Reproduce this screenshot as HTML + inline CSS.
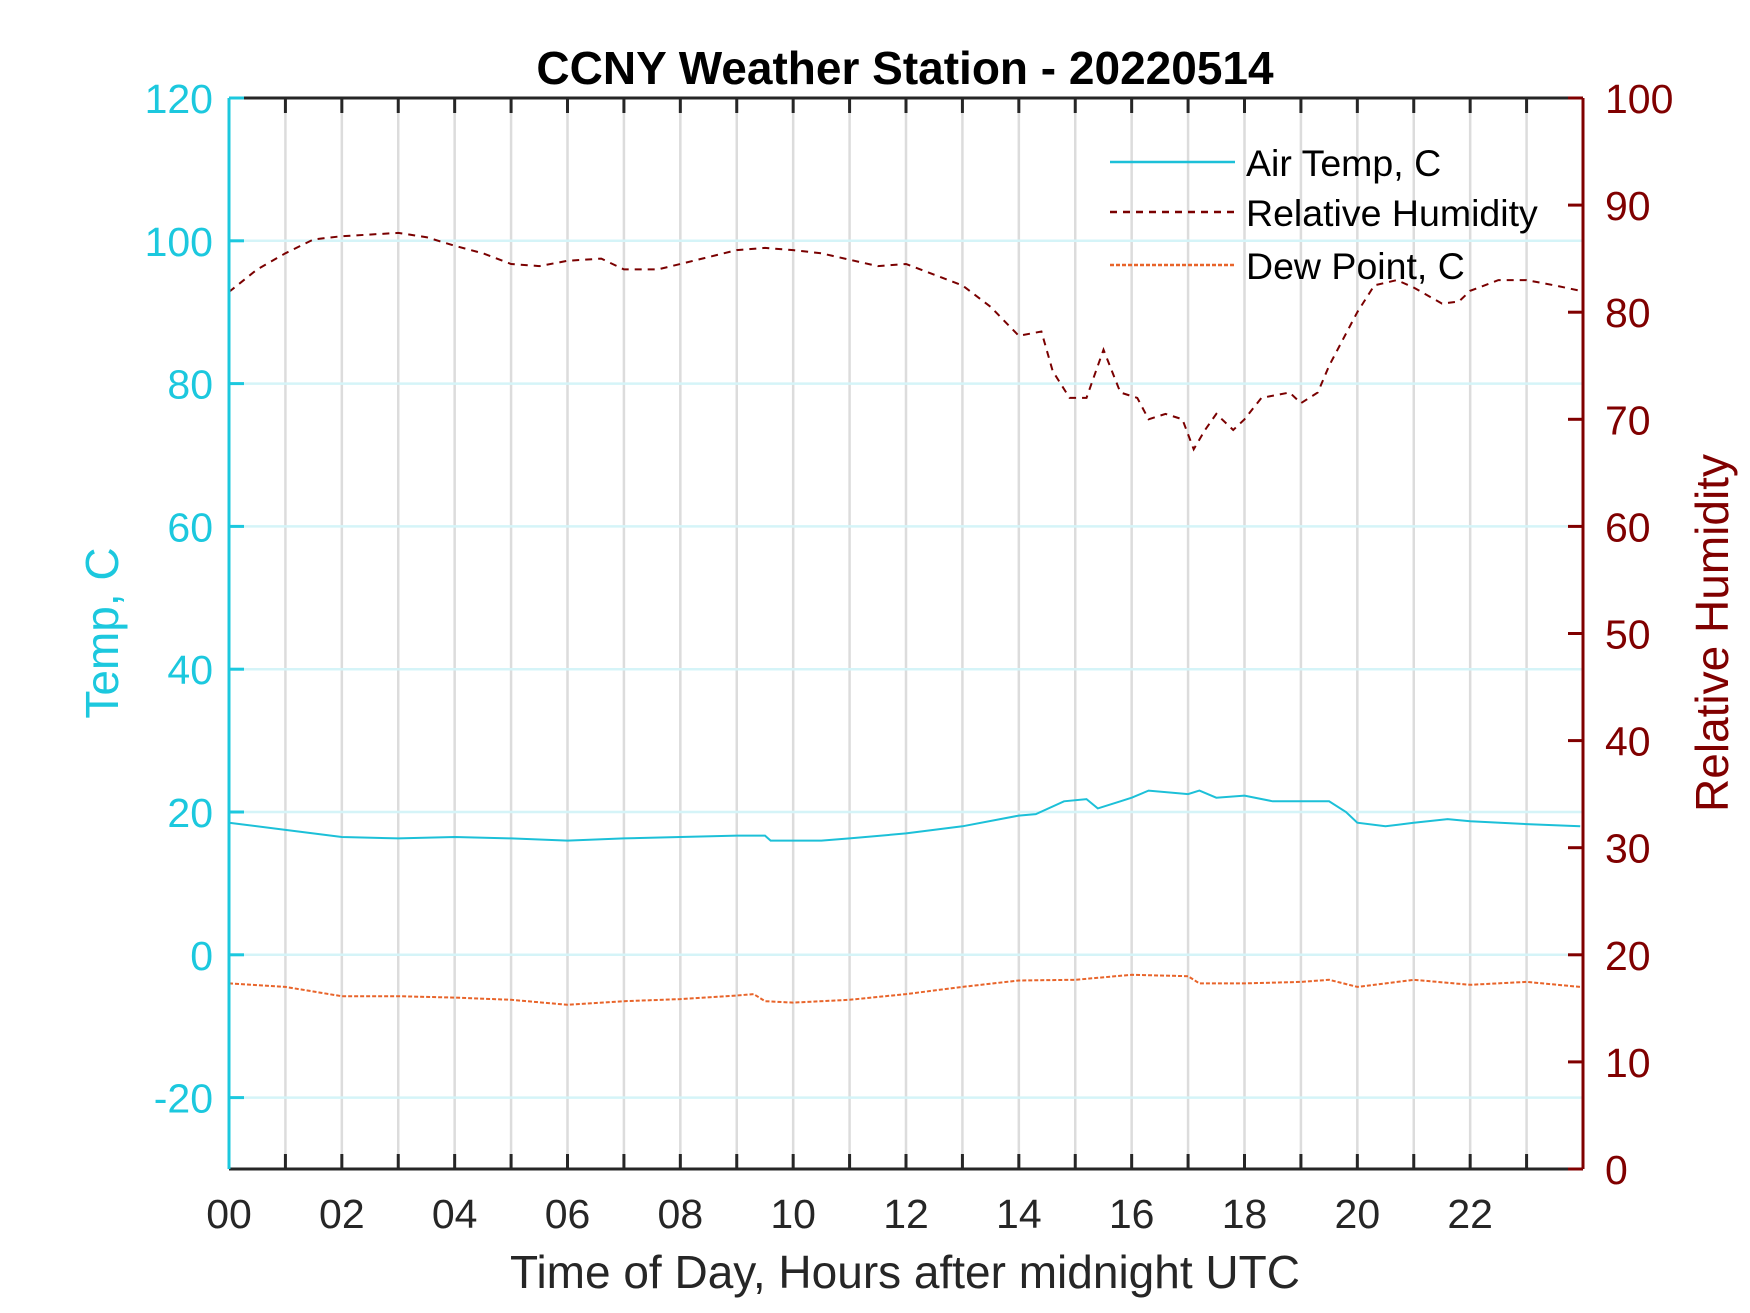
<!DOCTYPE html>
<html><head><meta charset="utf-8"><style>
html,body{margin:0;padding:0;background:#fff;}
svg{display:block;font-family:"Liberation Sans",Arial,sans-serif;}
</style></head><body>
<svg id="chart" width="1750" height="1313" viewBox="0 0 1750 1313">
<g id="grid"></g>
<g id="series"></g>
<g id="axes"></g>
<text x="905" y="84" text-anchor="middle" font-size="46" font-weight="bold" fill="#000">CCNY Weather Station - 20220514</text>
<text x="905" y="1288" text-anchor="middle" font-size="46" fill="#262626">Time of Day, Hours after midnight UTC</text>
<text transform="translate(118,633) rotate(-90)" text-anchor="middle" font-size="46" fill="#1cc8de">Temp, C</text>
<text transform="translate(1728,633) rotate(-90)" text-anchor="middle" font-size="46" fill="#800000">Relative Humidity</text>
<g id="legend">
<g><line x1="1110" y1="162" x2="1235" y2="162" stroke="#1cc0d8" stroke-width="2.5"/><text x="1246" y="176" font-size="37.5" fill="#000">Air Temp, C</text></g>
<g><line x1="1110" y1="212" x2="1235" y2="212" stroke="#7a0000" stroke-width="2.5" stroke-dasharray="7,6"/><text x="1246" y="226" font-size="37.5" fill="#000">Relative Humidity</text></g>
<g><line x1="1110" y1="265" x2="1235" y2="265" stroke="#e8642a" stroke-width="2.5" stroke-dasharray="4,2"/><text x="1246" y="279" font-size="37.5" fill="#000">Dew Point, C</text></g>
</g>
</svg>
<script>
const airHours=[0,1,2,3,4,5,6,7,8,9,9.5,9.6,10,10.5,11,12,13,14,14.3,14.8,15.2,15.4,15.8,16,16.3,17,17.2,17.5,18,18.5,19,19.5,19.8,20,20.5,21,21.6,22,23,23.95];
const airTemp=[18.5,17.5,16.5,16.3,16.5,16.3,16,16.3,16.5,16.7,16.7,16,16,16,16.3,17,18,19.5,19.7,21.5,21.8,20.5,21.5,22,23,22.5,23,22,22.3,21.5,21.5,21.5,20,18.5,18,18.5,19,18.7,18.3,18];
const dewHours=[0,1,2,3,4,5,6,7,8,9,9.3,9.5,10,11,12,13,14,15,16,17,17.2,18,19,19.5,20,21,22,23,23.95];
const dewPoint=[-4,-4.5,-5.8,-5.8,-6,-6.3,-7,-6.5,-6.2,-5.7,-5.5,-6.5,-6.7,-6.3,-5.5,-4.5,-3.6,-3.5,-2.8,-3,-4,-4,-3.8,-3.5,-4.5,-3.5,-4.2,-3.8,-4.5];
const rhHours=[0,0.5,1,1.5,2,3,3.5,4,4.5,5,5.5,6,6.6,7,7.6,8,9,9.5,10,10.5,11,11.5,12,12.5,13,13.5,14,14.4,14.6,14.9,15.2,15.4,15.5,15.8,16.1,16.3,16.6,16.9,17.1,17.3,17.5,17.8,18,18.3,18.8,19,19.3,19.5,19.8,20,20.3,20.7,21,21.5,21.8,22,22.5,23,23.5,23.95];
const rhValues=[81.9,84,85.5,86.8,87.1,87.4,87,86.2,85.5,84.5,84.3,84.8,85,84,84,84.5,85.8,86,85.8,85.5,84.9,84.3,84.5,83.5,82.5,80.5,77.8,78.2,74.5,72,72,75,76.5,72.5,72,70,70.5,70,67.2,69,70.5,69,70,72,72.5,71.5,72.5,75,78,80,82.5,83,82.3,80.8,81,82,83,83,82.5,82];
const xTickLabels=["00","02","04","06","08","10","12","14","16","18","20","22"];
const leftTicks=[-20,0,20,40,60,80,100,120];
const rightTicks=[0,10,20,30,40,50,60,70,80,90,100];

const L=229,R=1583,T=98,B=1169;
const xS=h=>L+(R-L)*h/24;
const yT=v=>B-(B-T)*(v+30)/150;
const yR=v=>B-(B-T)*v/100;
const NS="http://www.w3.org/2000/svg";
function mk(tag,attrs,parent){const e=document.createElementNS(NS,tag);for(const k in attrs)e.setAttribute(k,attrs[k]);parent.appendChild(e);return e;}
const grid=document.getElementById('grid'),ser=document.getElementById('series'),ax=document.getElementById('axes');
for(let h=1;h<24;h++){const l=mk('line',{x1:xS(h),x2:xS(h),y1:T,y2:B,stroke:'#dcdcdc','stroke-width':2.5},grid);

}
leftTicks.forEach(v=>{if(v===120)return;const l=mk('line',{x1:L,x2:R,y1:yT(v),y2:yT(v),stroke:'#d5f4f8','stroke-width':2.5},grid);

});
function path(xs,ys,yf,color,dash,name){const d=xs.map((h,i)=>(i?'L':'M')+xS(h).toFixed(1)+','+yf(ys[i]).toFixed(1)).join('');
const p=mk('path',{d:d,fill:'none',stroke:color,'stroke-width':2,'stroke-dasharray':dash},ser);

}
path(airHours,airTemp,yT,'#1cc0d8','none','air-temp-line');
path(dewHours,dewPoint,yT,'#e8642a','4,2','dew-point-line');
path(rhHours,rhValues,yR,'#7a0000','7,6','relative-humidity-line');
mk('line',{x1:L,x2:R,y1:T,y2:T,stroke:'#262626','stroke-width':3},ax);
mk('line',{x1:L,x2:R,y1:B,y2:B,stroke:'#262626','stroke-width':3},ax);
mk('line',{x1:L,x2:L,y1:T,y2:B,stroke:'#1cc8de','stroke-width':3},ax);
mk('line',{x1:R,x2:R,y1:T,y2:B,stroke:'#800000','stroke-width':3},ax);
for(let h=1;h<24;h++){mk('line',{x1:xS(h),x2:xS(h),y1:B,y2:B-15,stroke:'#262626','stroke-width':3},ax);mk('line',{x1:xS(h),x2:xS(h),y1:T,y2:T+15,stroke:'#262626','stroke-width':3},ax);}
xTickLabels.forEach((s,i)=>{const t=mk('text',{x:xS(i*2),y:1228,'text-anchor':'middle','font-size':41,fill:'#262626'},ax);t.textContent=s;

});
leftTicks.forEach(v=>{mk('line',{x1:L,x2:L+15,y1:yT(v),y2:yT(v),stroke:'#1cc8de','stroke-width':3},ax);
const t=mk('text',{x:L-16,y:yT(v)+15,'text-anchor':'end','font-size':41,fill:'#1cc8de'},ax);t.textContent=v;

});
rightTicks.forEach(v=>{mk('line',{x1:R-15,x2:R,y1:yR(v),y2:yR(v),stroke:'#800000','stroke-width':3},ax);
const t=mk('text',{x:R+22,y:yR(v)+15,'text-anchor':'start','font-size':41,fill:'#800000'},ax);t.textContent=v;

});
</script>
</body></html>
